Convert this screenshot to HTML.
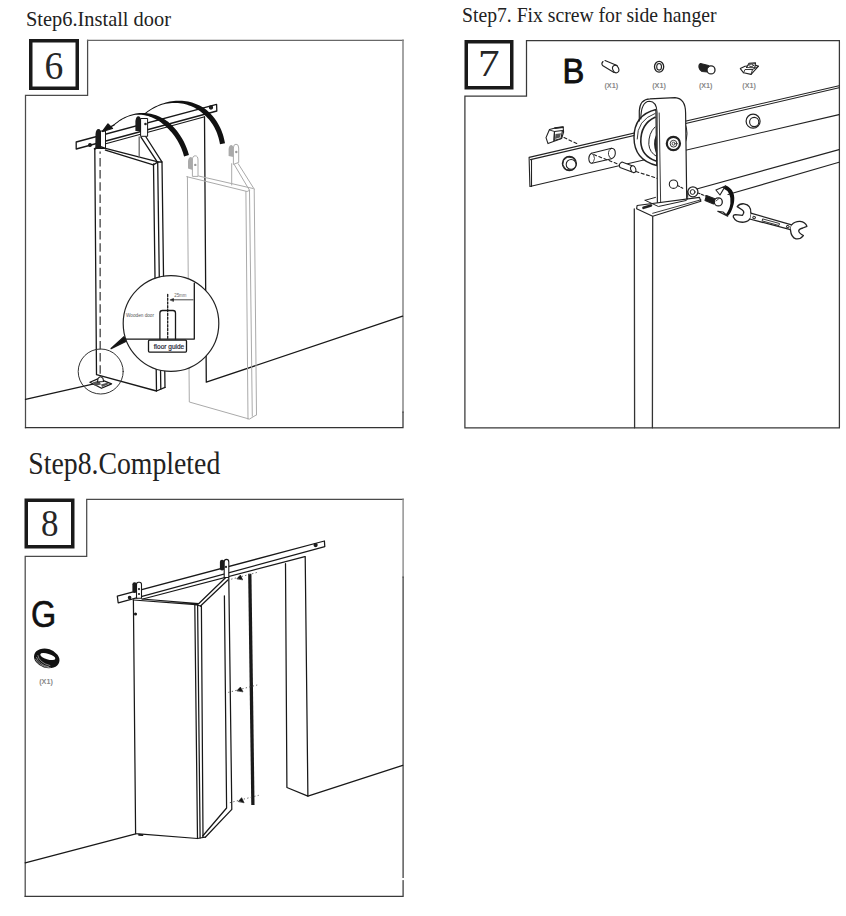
<!DOCTYPE html>
<html><head><meta charset="utf-8">
<style>
html,body{margin:0;padding:0;background:#fff;width:846px;height:916px;overflow:hidden}
svg{position:absolute;left:0;top:0;display:block}
.t{font-family:"Liberation Serif",serif;fill:#222}
.s{font-family:"Liberation Sans",sans-serif;fill:#111}
</style></head><body>
<svg width="846" height="916" viewBox="0 0 846 916">
<g id="texts">
<text class="t" x="26" y="26" font-size="22" textLength="145" lengthAdjust="spacingAndGlyphs">Step6.Install door</text>
<text class="t" x="462" y="22.2" font-size="22" textLength="254.5" lengthAdjust="spacingAndGlyphs">Step7. Fix screw for side hanger</text>
<text class="t" x="28.3" y="473.5" font-size="31" textLength="192" lengthAdjust="spacingAndGlyphs">Step8.Completed</text>
</g>
<g id="boxes" fill="none" stroke="#1a1a1a" stroke-width="3.5">
<rect x="30.75" y="40.75" width="46.5" height="47.5"/>
<rect x="466.25" y="41.75" width="45.5" height="46"/>
<rect x="26.25" y="500.25" width="46.5" height="46.5"/>
</g>
<g id="digits">
<text class="t" x="44.4" y="78.7" font-size="39.5" textLength="18.8" lengthAdjust="spacingAndGlyphs" style="fill:#262626">6</text>
<text class="t" x="478" y="75.6" font-size="38" textLength="21.6" lengthAdjust="spacingAndGlyphs" style="fill:#262626">7</text>
<text class="t" x="40.95" y="536.3" font-size="38" textLength="17.5" lengthAdjust="spacingAndGlyphs" style="fill:#262626">8</text>
</g>
<g id="frames" fill="none" stroke="#333" stroke-width="1.25" stroke-linecap="square">
<path d="M25.5 427.5 V95.3 H87.6 V40.3" stroke="#4a4a4a"/>
<path d="M87.6 40.3 H403" stroke="#686868" stroke-width="1.35"/>
<path d="M403 40.3 V412" stroke="#868686" stroke-width="1.5"/>
<path d="M403 412 V427.5 H25.5" stroke="#333"/>
<path d="M464.9 427.9 V96 H526.5 V40.6 H839.4 V427.9 Z" stroke="#383838"/>
<path d="M25.2 896.3 V556.4 H86.7 V499.3 H403.1" stroke="#4a4a4a"/>
<path d="M403.1 499.3 V577" stroke="#8a8a8a" stroke-width="1.4"/>
<path d="M403.1 577 V896.3 H25.2" stroke="#3a3a3a"/>
</g>

<g id="p6" fill="none" stroke="#181818" stroke-width="1.3" stroke-linecap="round" stroke-linejoin="round">
 <!-- floor left -->
 <path d="M25.5 399.3 L95 383.7"/>
 <!-- wall -->
 <path d="M204.5 116.6 L206.3 382.2 L402.6 316.1"/>
 <!-- ghost door -->
 <g stroke="#aaa" stroke-width="1">
  <path d="M187.4 176.7 L189.3 402 L249.4 419.1 L256.5 414.8"/>
  <path d="M186.8 176.7 L247.1 191.5 L249.5 190.3 M198.6 176 L253 188.5"/>
  <path d="M245.9 191.5 L248 419.1 M249.5 190.3 L252.3 416.2 M254.2 189.1 L256.5 414.8"/>
  <path d="M249.5 190.3 L234.1 164.3 M254.2 189.1 L238.2 163.7 M231.7 163.7 L231.7 185"/>
  <path d="M192.4 176 L192.4 160 Q192.4 155.8 195.2 155.8 Q198 155.8 198 160 L198 176 Z" fill="#fff"/>
  <path d="M188 168.5 L188 161 Q188.5 157 191 157 Q192.8 157.5 192.6 161 L192.6 170 Z" fill="#aaa" stroke="none"/>
  <circle cx="195.3" cy="164.9" r="1.2" fill="#999" stroke="none"/>
  <path d="M233.4 164 L233.4 148 Q233.4 144.2 236 144.2 Q238.7 144.2 238.7 148 L238.7 162 Z" fill="#fff"/>
  <path d="M228.6 156 L228.6 149 Q229 145 231.5 145 Q233.5 145.5 233.4 149 L233.4 157 Z" fill="#aaa" stroke="none"/>
  <circle cx="236.3" cy="152" r="1.2" fill="#999" stroke="none"/>
 </g>
 <!-- door 1 front -->
 <path d="M94.8 149 L96.5 374.7 L156.5 391 L165 387.4"/>
 <path d="M100.7 147.1 L158 161.9 M105.4 150.1 L153.3 164.9 M94.8 149 L100.7 147.1"/>
 <path d="M153.5 164 L156.5 391 M157.7 162 L160.8 389 M162 162 L165 387.4 M153.3 164.9 L158 161.9 L162 162"/>
 <path d="M100.1 151.6 L100.1 153.8 M100.1 157.9 L100.2 376" stroke-dasharray="8.5 3.7" stroke-linecap="butt" stroke="#444"/>
 <!-- door 2 angled -->
 <path d="M157.4 162.2 L141 137.1 M161.9 161.9 L145.7 136.5"/>
 <path d="M139.2 137 L139.2 157.5" stroke="#666"/>
 <!-- rail -->
 <path d="M76.2 142 L216.6 104.3 L216.8 111 L76.2 149 Z" fill="#fff" stroke-width="1.3"/>
 <path d="M103 144.5 L203.8 117" stroke-width="1.2"/>
 <circle cx="90" cy="145" r="1.3" fill="#222"/>
 <circle cx="211" cy="107.5" r="1.5" fill="#222"/>
 <!-- hangers -->
 <path d="M95.3 149 L95.5 134 Q96 129 98.5 129 Q101 129 101.2 134 L101.2 149 Z" fill="#1c1c1c" stroke="none"/>
 <rect x="100.9" y="131" width="4.6" height="17.5" fill="#fff" stroke-width="1"/>
 <path d="M94.5 148.7 L100 146.5 L105.5 148.5" stroke-width="1.6"/>
 <path d="M135.4 131 L135.4 121 Q136 116.3 138.3 116.3 Q140.8 116.3 141 121 L141 131 Z" fill="#1c1c1c" stroke="none"/>
 <rect x="141" y="118.5" width="6.6" height="17.8" fill="#fff" stroke-width="1"/>
 <circle cx="145.5" cy="124" r="1.3" fill="#222" stroke="none"/>
 <!-- arcs -->
 <path d="M103.5 130.5 L113.8 125.2" />
 <path d="M102.5 131.5 L108 124 L112.5 128.5 Z" fill="#111"/>
<path d="M113.93 125.68 L115.74 124.12 L117.55 122.68 L119.37 121.37 L121.20 120.19 L123.03 119.12 L124.87 118.16 L126.71 117.32 L128.55 116.59 L130.38 115.97 L132.22 115.45 L134.05 115.06 L135.89 114.86 L137.71 114.76 L139.52 114.76 L141.30 114.85 L143.06 115.03 L144.80 115.30 L146.51 115.66 L148.20 116.11 L149.86 116.63 L151.50 117.24 L153.11 117.91 L154.69 118.67 L156.24 119.49 L157.76 120.39 L159.26 121.35 L160.71 122.37 L162.14 123.46 L163.53 124.61 L164.89 125.81 L166.28 126.99 L167.64 128.23 L168.96 129.53 L170.24 130.89 L171.49 132.30 L172.70 133.76 L173.87 135.26 L174.99 136.82 L176.07 138.41 L177.10 140.05 L178.09 141.74 L179.02 143.45 L179.90 145.21 L180.73 146.99 L181.51 148.81 L182.23 150.66 L182.89 152.53 L183.49 154.43 L184.05 156.39 L188.95 155.01 L188.38 152.97 L187.73 150.91 L187.01 148.88 L186.23 146.89 L185.39 144.92 L184.49 142.99 L183.54 141.09 L182.53 139.23 L181.46 137.41 L180.34 135.63 L179.17 133.90 L177.95 132.21 L176.68 130.57 L175.36 128.98 L174.00 127.44 L172.60 125.96 L171.15 124.54 L169.66 123.17 L168.13 121.87 L166.50 120.70 L164.83 119.62 L163.14 118.61 L161.42 117.67 L159.67 116.82 L157.90 116.04 L156.12 115.34 L154.31 114.73 L152.49 114.20 L150.65 113.76 L148.80 113.41 L146.94 113.15 L145.08 112.99 L143.21 112.92 L141.33 112.94 L139.46 113.07 L137.59 113.29 L135.72 113.61 L133.85 114.04 L131.97 114.48 L130.09 115.01 L128.20 115.65 L126.31 116.40 L124.43 117.26 L122.55 118.24 L120.67 119.34 L118.81 120.55 L116.95 121.89 L115.10 123.34 L113.27 124.92 Z" fill="#111" stroke="none"/>
<path d="M144.41 114.69 L146.30 113.19 L148.20 111.80 L150.12 110.51 L152.07 109.31 L154.02 108.21 L155.99 107.21 L157.97 106.31 L159.96 105.50 L161.96 104.78 L163.97 104.18 L165.99 103.74 L168.01 103.40 L170.02 103.15 L172.01 102.98 L173.99 102.91 L175.95 102.93 L177.90 103.03 L179.82 103.22 L181.72 103.49 L183.59 103.84 L185.43 104.27 L187.25 104.79 L189.03 105.38 L190.78 106.05 L192.49 106.79 L194.17 107.61 L195.81 108.50 L197.40 109.46 L198.95 110.50 L200.46 111.60 L201.92 112.77 L203.38 113.96 L204.80 115.20 L206.19 116.50 L207.52 117.88 L208.81 119.33 L210.04 120.84 L211.22 122.43 L212.34 124.08 L213.41 125.80 L214.41 127.58 L215.35 129.44 L216.23 131.36 L217.04 133.34 L217.78 135.39 L218.44 137.50 L219.03 139.68 L219.55 141.92 L219.99 144.27 L225.01 143.33 L224.54 140.88 L223.98 138.44 L223.34 136.07 L222.61 133.76 L221.80 131.52 L220.91 129.34 L219.95 127.23 L218.91 125.18 L217.80 123.21 L216.62 121.30 L215.38 119.47 L214.07 117.71 L212.69 116.02 L211.26 114.41 L209.77 112.87 L208.23 111.41 L206.63 110.03 L204.96 108.75 L203.21 107.61 L201.42 106.55 L199.60 105.57 L197.74 104.69 L195.86 103.89 L193.94 103.18 L192.00 102.55 L190.04 102.01 L188.06 101.57 L186.07 101.21 L184.05 100.93 L182.03 100.75 L180.00 100.66 L177.96 100.66 L175.91 100.75 L173.87 100.93 L171.82 101.19 L169.78 101.55 L167.74 102.00 L165.70 102.55 L163.68 103.18 L161.64 103.83 L159.61 104.56 L157.58 105.39 L155.56 106.31 L153.55 107.33 L151.56 108.45 L149.58 109.66 L147.63 110.98 L145.69 112.40 L143.79 113.91 Z" fill="#111" stroke="none"/>
 <!-- small circle -->
 <circle cx="100.7" cy="371.5" r="22.5" stroke="#333" stroke-width="1"/>
 <path d="M89.9 382.2 L98.4 378.6 L111.6 383.9 L101.5 388.3 Z" fill="#fff" stroke-width="1.2"/>
 <path d="M92.5 382.5 L99 380.5 L101 384.5 L95 386 Z" fill="#555" stroke="none"/>
 <path d="M101 384.5 L107 382.8 L109 384 L102 387 Z" fill="#555" stroke="none"/>
 <path d="M97.5 382 L98 378.5 Q100.5 375 103 378.5 L103.5 381.5 Z" fill="#fff" stroke-width="1.1"/>
 <!-- wedge -->
 <path d="M111.1 348.6 L124 336.8 L125.8 341.5 Z" fill="#111"/>
 <!-- big circle -->
 <circle cx="171" cy="323.5" r="47.8" fill="#fff" stroke="#222" stroke-width="1.2"/>
 <path d="M123.5 339.1 L194.3 339.1 L194.3 283.2"/>
 <path d="M159.9 339.1 L159.9 313 Q159.9 310.5 162.5 310.5 L173 310.5 Q175.5 310.5 175.5 313 L175.5 339.1"/>
 <path d="M167.7 294.3 L167.7 339" stroke-dasharray="2.2 1.6"/>
 <path d="M172 299.8 L193 299.8" stroke-width="0.8"/>
 <path d="M170.3 299.8 L173.5 298.5 L173.5 301.1 Z" fill="#222" stroke-width="0.6"/>
 <rect x="148.5" y="340.2" width="38" height="11.9" rx="1" fill="#fff"/>
 <text x="153.8" y="349.3" font-family="Liberation Sans, sans-serif" font-size="7.8" fill="#223" stroke="#223" stroke-width="0.2" textLength="30.4" lengthAdjust="spacingAndGlyphs">floor guide</text>
 <text x="126" y="317" font-family="Liberation Sans, sans-serif" font-size="4.6" fill="#555" stroke="none" textLength="28" lengthAdjust="spacingAndGlyphs">Wooden door</text>
 <text x="174.2" y="297" font-family="Liberation Sans, sans-serif" font-size="5" fill="#666" stroke="none" textLength="12.3" lengthAdjust="spacingAndGlyphs">25mm</text>
</g>
<g id="p7" fill="none" stroke="#222" stroke-width="1.1" stroke-linecap="round" stroke-linejoin="round">
 <text x="562.6" y="83.3" font-family="Liberation Sans, sans-serif" font-size="35" fill="#111" stroke="#111" stroke-width="0.9" textLength="21.8" lengthAdjust="spacingAndGlyphs">B</text>
 <g font-family="Liberation Sans, sans-serif" font-size="7" font-weight="bold" fill="#888" stroke="none">
  <text x="604.4" y="87.6" textLength="13.8" lengthAdjust="spacingAndGlyphs">(X1)</text>
  <text x="652.2" y="87.6" textLength="13.8" lengthAdjust="spacingAndGlyphs">(X1)</text>
  <text x="698.9" y="87.6" textLength="13.6" lengthAdjust="spacingAndGlyphs">(X1)</text>
  <text x="742.3" y="87.6" textLength="13.6" lengthAdjust="spacingAndGlyphs">(X1)</text>
 </g>
 <!-- part icons -->
 <path d="M603 61.5 Q601 63.5 602.5 65.5 L614 72.5 M605 60.6 L617 65.5"/>
 <ellipse cx="615.7" cy="69" rx="2.9" ry="3.9" transform="rotate(-25 615.7 69)"/>
 <ellipse cx="659.1" cy="66.8" rx="4.6" ry="5.4" stroke-width="1.3"/>
 <ellipse cx="659.1" cy="66.8" rx="2.4" ry="3.3"/>
 <path d="M700.5 63.5 Q698.5 64.5 699 67.5 Q699.8 70.5 702 71.5 L707.5 72 L708.5 65.5 Z" fill="#222"/>
 <circle cx="711" cy="69.9" r="4" fill="#fff" stroke-width="1.3"/>
 <path d="M708.5 67.5 L709.5 66" stroke-width="0.9"/>
 <path d="M740.3 68.6 L745 66.3 L756 65.3 L758.5 66.2 L751.1 74.4 L743.6 72.8 Z" fill="#fff" stroke-width="1.1"/>
 <path d="M743.6 72.8 L745 69.5 L752.5 69.5 L751.1 74.4 M752.5 69.5 L758.5 66.2" stroke-width="0.9"/>
 <path d="M746.5 67.5 L749 63.2 L755.5 62.9 L754.8 67.8 Z" fill="#fff" stroke-width="1.1"/>
 <ellipse cx="751.2" cy="65.3" rx="2.3" ry="1.2" stroke-width="0.9"/>
 <!-- lower lines -->
 <path d="M686.7 191.7 L839 149.6"/>
 <path d="M728 194.5 L839 162.3"/>
 <!-- rail -->
 <path d="M529.1 157.4 L839 85.7 M530.5 159.6 L839 87.8 M529.1 157.4 L529.9 186.5 L839 114.6"/>
 <path d="M531.5 159.6 L531.5 186.5"/>
 <circle cx="753.1" cy="121.2" r="7" stroke-width="1.2"/>
 <circle cx="754.2" cy="122" r="4.6"/>
 <!-- clip -->
 <path d="M546 137.6 L549.5 129.5 L555.1 128 L563.1 127 L563.6 132.1 L561.6 138.6 L548 143.6 Z" fill="#fff" stroke-width="1.1"/>
 <path d="M555 128.2 L563 127.2" stroke-width="1.8"/>
 <path d="M554.5 131.5 L562.5 130.5 L561 138.5 L554 140.5 Z" fill="#fff" stroke-width="1.2"/>
 <path d="M555.5 134 L561 133.3 L559.8 137.5 L555 139 Z" fill="#555" stroke="none"/>
 <path d="M549.5 130 L554.5 131.5 L554 140.5" stroke-width="0.9"/>
 <path d="M564 137.6 L578 144" stroke-dasharray="3 2.5"/>
 <!-- hex nut -->
 <circle cx="569.4" cy="163.5" r="7" stroke-width="1.3"/>
 <path d="M564 160 L567.5 157 L573.5 158 L575.5 163.5 L572.5 169 L566 169.5 L563 165 Z" stroke-width="0.9"/>
 <circle cx="571.1" cy="164.4" r="4.9" fill="#fff" stroke-width="1.1"/>
 <!-- slot -->
 <path d="M591.5 153.2 L611.5 148.3 Q615.5 148.5 615.3 153.5 Q615 157.5 611.5 158.7 L592 163.3 Q589 163.3 588.8 158.5 Q589 154.5 591.5 153.2 Z" stroke-width="1.1"/>
 <path d="M611.5 148.3 Q608 150 608.5 154.5 Q609 158 611.5 158.7" stroke-width="0.9"/>
 <path d="M591.5 153.2 Q594.5 155 594.5 158.5 Q594 162 592 163.3" stroke-width="0.8"/>
 <path d="M593.7 154.6 L621 165.2" stroke-dasharray="3 2.5"/>
 <!-- spacer -->
 <path d="M622 162 L634 166.5 L632 172 L620 167.5 Q618 164 622 162 Z" fill="#fff"/>
 <ellipse cx="633.2" cy="169.2" rx="2.5" ry="3.5" transform="rotate(-20 633.2 169.2)" fill="#fff"/>
 <path d="M636 171.5 L658 178.6" stroke-dasharray="3 2.5"/>
 <!-- wheel -->
 <path d="M656 109.5 Q634 115 634 137.5 Q634 160 656.8 165.5 Z" fill="#fff" stroke-width="1.4"/>
 <path d="M655 117.3 Q640.5 124 640.8 142 Q641.5 156 656 161" stroke-width="1.6"/>
 <path d="M655 113.5 Q637 120 637.2 139" stroke-width="0.9"/>
 <path d="M655 127 Q648.5 133 648.8 144.4 Q649.5 152.5 656.8 156.6" stroke-width="1"/>
 <path d="M656.5 136 Q653.5 143 656.5 152" stroke-width="1.8"/>
 <path d="M684.7 122.5 Q689.5 133.5 684.7 144.4" stroke-width="1"/>
 <!-- back loop -->
 <path d="M657.4 207.8 L656.6 112 Q656 101 648 100 L675.1 97.7 Q685.5 98.5 685.6 113 L686.7 198.4 Q686.5 200.3 684 201 L660.7 207.8 Z" fill="#fff" stroke="none"/>
 <path d="M639.3 121 L639.3 111 Q640 99 650 98.8 L675.1 97.7 Q685.5 98.5 685.6 113 L686.7 198.4" stroke-width="1.2"/>
 <path d="M640.8 119 Q641 101.5 649.5 101.3 Q656.5 101.5 657 112 L657.4 207.8" stroke-width="1.15"/>
 <path d="M659.2 113 L660.7 207.5" stroke-width="0.9"/>
 <circle cx="673.4" cy="143.5" r="6.6" stroke-width="2.2"/>
 <circle cx="673.6" cy="143.7" r="3.4" stroke-width="0.9"/>
 <circle cx="673.6" cy="143.7" r="1.5" stroke-width="0.8"/>
 <circle cx="673.5" cy="184.2" r="4.2" fill="#fff" stroke-width="1.1"/>
 <path d="M677.5 185.5 L684 189" stroke-dasharray="2.2 1.6"/>
 <!-- base plate -->
 <path d="M637.1 205.5 L699.5 197.4 L700.9 201.2 L652.7 216.3 L636.6 208.8 Z" fill="#fff" stroke-width="1.15"/>
 <path d="M652.7 213.3 L700.9 199.8" stroke-width="0.9"/>
 <path d="M645.1 200.3 L655.5 197.4 M645.1 200.3 L658.4 206.5 L686 200.5 Q688 199.5 687.7 197.5 L687.7 191" stroke-width="1"/>
 <path d="M643.5 207.8 L651 205.5" stroke-width="2.6"/>
 <circle cx="692.9" cy="191.8" r="5" fill="#fff" stroke-width="1.2"/>
 <circle cx="692.6" cy="192" r="2.4" stroke-width="1"/>
 <!-- door -->
 <path d="M634.3 208.8 L634.6 427.8 M652.7 216.3 L652.4 427.8" stroke="#333" stroke-width="1.3"/>
 <!-- screw -->
 <path d="M698 193 L707 196.5" stroke-dasharray="2.2 1.6"/>
 <path d="M706.5 195.5 L715.5 199 L713.5 204 L705 200.5 Z" fill="#1a1a1a"/>
 <circle cx="718.3" cy="201.9" r="4" fill="#fff" stroke-width="1.3"/>
 <path d="M716 201 L719 198.5" stroke-width="0.8"/>
 <!-- rotation arrow -->
 <path d="M725.4 185.3 Q736.5 190 733.7 204 Q731.5 213 727.7 216.3 L725.8 214.4 Q729.5 210 730.4 203.5 Q731.5 192 723.5 188.6 Z" fill="#111" stroke="none"/>
 <path d="M715.9 190 L725.4 185.9 L720 195 Z" fill="#fff" stroke-width="1.1"/>
 <path d="M717.7 211.3 L727.7 216.2 L723 212 Z" fill="#fff" stroke-width="1.1"/>
 <!-- wrench -->
 <path d="M750.8 213.1 L791.6 224.9 L790.4 229.6 L749.6 219 Z" fill="#fff" stroke-width="1.25"/>
 <path d="M750.8 213.1 Q751.5 205 744 203.8 Q739.5 203.4 737.2 206.6 L742 209.8 Q744.3 211.3 743.6 213.3 L742.5 215.3 L735.5 214.6 Q733 214.6 733.3 217 Q736 222.8 744 222.2 Q748.5 221.3 749.6 219" fill="#fff" stroke-width="1.3"/>
 <path d="M791.6 224.9 Q795 221.2 800 221.4 Q805.5 222 806.9 226.3 L802.8 228 Q798.8 229 798.7 231 Q799 233 803.4 235.6 Q800.5 239.4 796 238.8 Q791.2 237.6 790.4 229.6" fill="#fff" stroke-width="1.3"/>
 <rect x="753.3" y="216.6" width="2" height="2" transform="rotate(16 754.3 217.6)" stroke-width="0.9"/>
 <rect x="787" y="225.7" width="2" height="2" transform="rotate(16 788 226.7)" stroke-width="0.9"/>
 <path d="M763 219 L779.5 223.5 L779 225.5 L762.5 221 Z" stroke-width="0.9"/>
</g>
<g id="p8" fill="none" stroke="#181818" stroke-width="1.25" stroke-linecap="round" stroke-linejoin="round">
 <text x="31" y="627.1" font-family="Liberation Sans, sans-serif" font-size="36" fill="#111" stroke="#111" stroke-width="0.6" textLength="25.2" lengthAdjust="spacingAndGlyphs">G</text>
 <text x="39.2" y="684.4" font-family="Liberation Sans, sans-serif" font-size="7" font-weight="bold" fill="#888" stroke="none" textLength="13.6" lengthAdjust="spacingAndGlyphs">(X1)</text>
 <!-- ring -->
 <g transform="rotate(9 47 658.5)">
 <path d="M34 658.5 A13 9.5 0 1 0 60 658.5 A13 9.5 0 1 0 34 658.5 Z M39.7 656.5 A7.8 2.8 0 1 1 55.3 656.5 A7.8 2.8 0 1 1 39.7 656.5 Z" transform="rotate(8 47.5 656.5)" fill="#111" stroke="none" fill-rule="evenodd"/>
 <path d="M36.5 659 Q40 666 50 666.5" stroke="#fff" stroke-width="0.45"/>
 <path d="M35.8 661 Q40 667.5 52 667.3" stroke="#fff" stroke-width="0.45"/>
 <path d="M37.5 657 Q40 664 51 665" stroke="#fff" stroke-width="0.45"/>
 </g>
 <rect x="401.5" y="878" width="3.5" height="2.1" fill="#fff" stroke="none"/>
 <!-- floor -->
 <path d="M139 834.8 L142.5 835.2" stroke-width="1.8"/>
 <path d="M25.2 862.9 L135.7 833.9"/>
 <path d="M307.9 796.2 L402.7 765.3"/>
 <!-- jamb -->
 <path d="M285.5 563.6 L286.9 787.5 L307.9 796.2 L305.2 556.6"/>
 <!-- thick bar -->
 <path d="M249.8 573.8 L252.9 805" stroke-width="3.3" stroke-linecap="butt" stroke="#1a1a1a"/>
 <!-- door B -->
 <path d="M228.8 578 L231.8 809.4 L205.3 837.2 M224.4 595.8 L226.6 808 L202.7 836"/>
 <path d="M198.6 603.7 L226 577.3 M200.5 606 L227.9 580"/>
 <!-- door A -->
 <path d="M133.4 600 L135.6 833.6 L197.5 838.5 L200.1 838 L205.3 837.2"/>
 <path d="M133.4 600 L195.8 604.7 L198.6 603.7 M141.9 599 L198.6 603.7"/>
 <path d="M194.8 604.7 L197.5 838.5 M197.6 604.2 L200.1 838 M201.4 605.6 L203 836.5 M195.8 604.7 L200.5 606"/>
 <circle cx="135.5" cy="614" r="0.9" fill="#222"/>
 <!-- rail -->
 <path d="M117.3 596.2 L324.4 541 L324.8 546.7 L118.2 602.8 Z" fill="#fff"/>
 <path d="M142.8 599 L304.8 556.6"/>
 <circle cx="315.6" cy="545" r="1.5" fill="#222"/>
 <circle cx="129.6" cy="597.6" r="1.2" fill="#222"/>
 <!-- hangers -->
 <rect x="132.4" y="582.2" width="4.4" height="10.8" rx="2.1" fill="#1a1a1a" stroke="none"/>
 <path d="M136.5 598.2 L136.5 584.5 Q136.5 582.2 138.5 582.2 L139.5 582.2 Q141.5 582.2 141.5 584.5 L141.5 598.2 Z" fill="#fff" stroke-width="1.1"/>
 <circle cx="139" cy="589.1" r="1.1" fill="#222" stroke="none"/>
 <circle cx="139" cy="594" r="1.1" fill="#222" stroke="none"/>
 <rect x="219.9" y="559.8" width="4.4" height="10.8" rx="2.1" fill="#1a1a1a" stroke="none"/>
 <path d="M224.2 577.5 L224.2 562 Q224.2 559.4 226.5 559.4 Q228.8 559.4 228.8 562 L228.8 577.5 Z" fill="#fff" stroke-width="1.1"/>
 <circle cx="226" cy="566.9" r="1.1" fill="#222" stroke="none"/>
 <!-- dashed arrows -->
 <g stroke-width="0.9" stroke-dasharray="1.3 2.3" stroke="#555" stroke-linecap="butt">
  <path d="M231.2 579.2 L257.2 572.4"/>
  <path d="M228.3 692.4 L257.2 685"/>
  <path d="M229.8 802.7 L258.7 795.3"/>
 </g>
 <path d="M237.1 578.6 L240.4 575.1 L242.5 579.5 Z M237.1 690.6 L240.4 687.1 L242.8 691.5 Z M238.6 801.3 L241.6 797.7 L243.9 802.4 Z" fill="#111" stroke-width="0.7"/>
</g>
</svg>
</body></html>
